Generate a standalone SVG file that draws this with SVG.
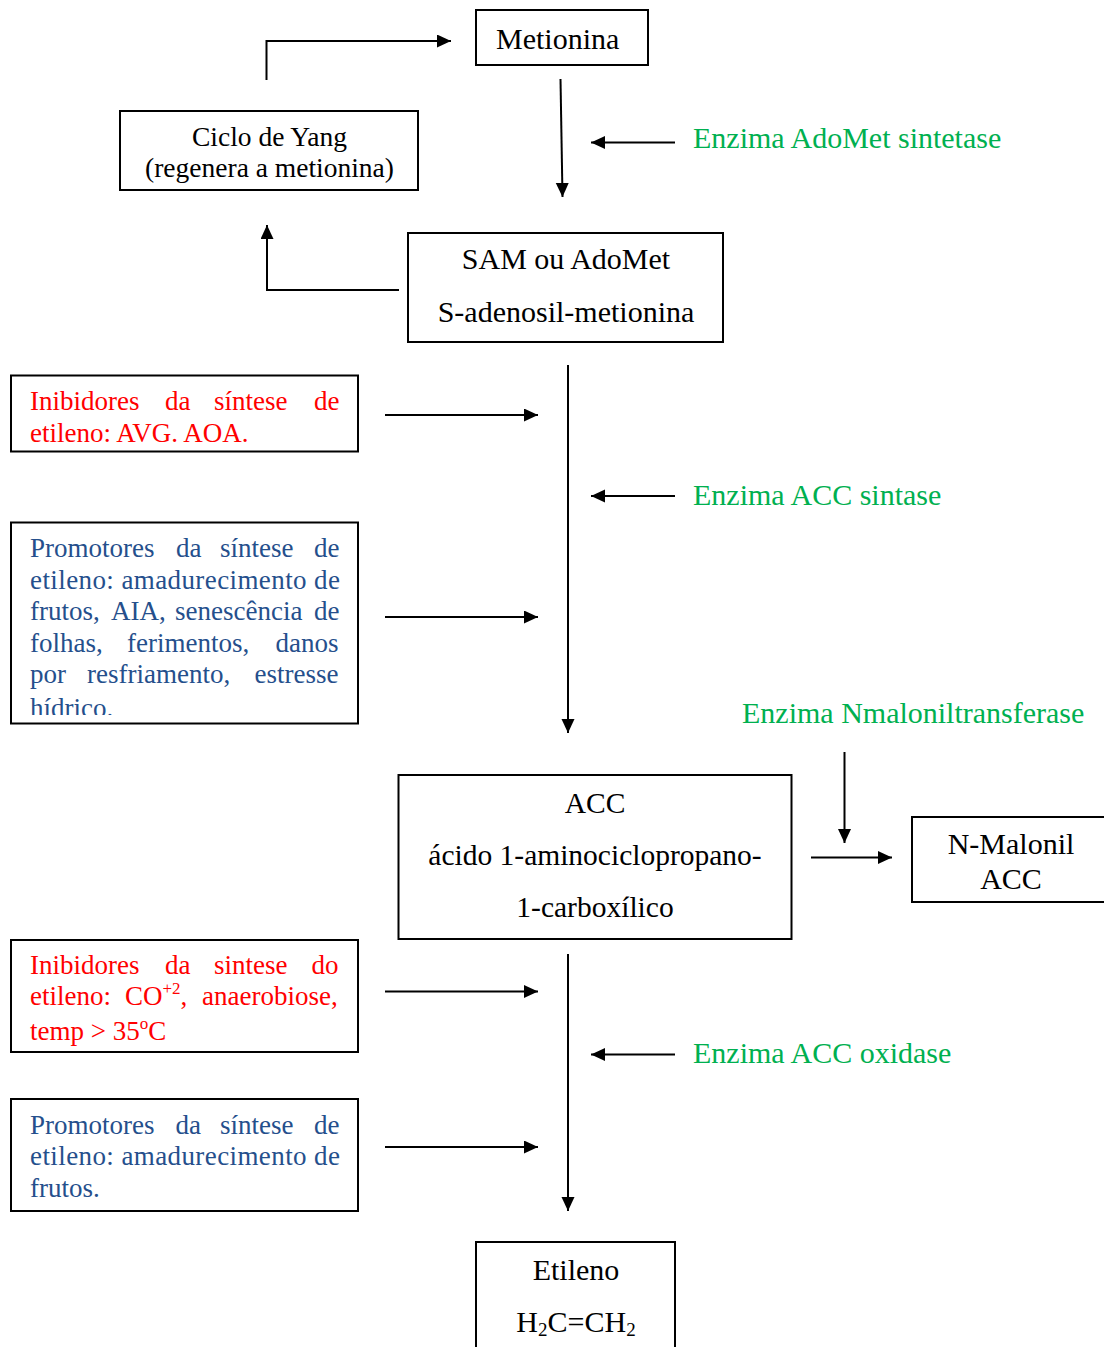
<svg xmlns="http://www.w3.org/2000/svg" width="1104" height="1347" viewBox="0 0 1104 1347">
<style>
.box{fill:#fff;stroke:#000;stroke-width:2}
.t{font-family:"Liberation Serif","Times New Roman",serif;fill:#000}
.b30{font-size:30px}
.b27{font-size:27px}
.g{font-family:"Liberation Serif","Times New Roman",serif;font-size:30px;fill:#00b050}
.r{font-family:"Liberation Serif","Times New Roman",serif;font-size:27px;fill:#ff0000}
.bl{font-family:"Liberation Serif","Times New Roman",serif;font-size:27px;fill:#254f8c}
.c{text-anchor:middle}
.ln{fill:none;stroke:#000;stroke-width:2}
</style>
<defs>
<marker id="ah" markerUnits="userSpaceOnUse" markerWidth="16" markerHeight="14" refX="14" refY="6.5" orient="auto">
<path d="M0,0 L14,6.5 L0,13 z" fill="#000"/>
</marker>
<clipPath id="clipP1"><rect x="12" y="523" width="345" height="192"/></clipPath>
</defs>
<rect width="1104" height="1347" fill="#fff"/>

<g id="connectors">
<polyline class="ln" points="266.5,80 266.5,41 451,41" marker-end="url(#ah)"/>
<line class="ln" x1="560.5" y1="79" x2="562.5" y2="197" marker-end="url(#ah)"/>
<line class="ln" x1="675" y1="142.5" x2="591" y2="142.5" marker-end="url(#ah)"/>
<polyline class="ln" points="399,290 267,290 267,225" marker-end="url(#ah)"/>
<line class="ln" x1="385" y1="415" x2="538" y2="415" marker-end="url(#ah)"/>
<line class="ln" x1="568" y1="365" x2="568" y2="733" marker-end="url(#ah)"/>
<line class="ln" x1="675" y1="496" x2="591" y2="496" marker-end="url(#ah)"/>
<line class="ln" x1="385" y1="617" x2="538" y2="617" marker-end="url(#ah)"/>
<line class="ln" x1="844.5" y1="752" x2="844.5" y2="843" marker-end="url(#ah)"/>
<line class="ln" x1="811" y1="857.5" x2="892" y2="857.5" marker-end="url(#ah)"/>
<line class="ln" x1="385" y1="991.5" x2="538" y2="991.5" marker-end="url(#ah)"/>
<line class="ln" x1="568" y1="954" x2="568" y2="1211" marker-end="url(#ah)"/>
<line class="ln" x1="675" y1="1054.5" x2="591" y2="1054.5" marker-end="url(#ah)"/>
<line class="ln" x1="385" y1="1147" x2="538" y2="1147" marker-end="url(#ah)"/>
</g>

<g id="metionina">
<rect class="box" x="476" y="10" width="172" height="55"/>
<text class="t b30" x="496" y="49">Metionina</text>
</g>

<g id="ciclo-yang">
<rect class="box" x="120" y="111" width="298" height="79"/>
<text class="t c" font-size="27.5" x="269.5" y="146">Ciclo de Yang</text>
<text class="t c" font-size="27.5" x="269.5" y="177">(regenera a metionina)</text>
</g>

<g id="enz-adomet">
<text class="g" x="693" y="148">Enzima AdoMet sintetase</text>
</g>

<g id="sam">
<rect class="box" x="408" y="233" width="315" height="109"/>
<text class="t b30 c" x="566" y="269">SAM ou AdoMet</text>
<text class="t b30 c" x="566" y="322">S-adenosil-metionina</text>
</g>

<g id="inibidores-1">
<rect class="box" x="11" y="375.5" width="347" height="76"/>
<text class="r" y="410"><tspan x="30">Inibidores</tspan><tspan x="165">da</tspan><tspan x="214">síntese</tspan><tspan x="314">de</tspan></text>
<text class="r" x="30" y="442">etileno: AVG. AOA.</text>
</g>

<g id="enz-acc-sintase">
<text class="g" x="693" y="505">Enzima ACC sintase</text>
</g>

<g id="promotores-1">
<rect class="box" x="11" y="522.5" width="347" height="201"/>
<g clip-path="url(#clipP1)">
<text class="bl" y="557"><tspan x="30">Promotores</tspan><tspan x="176">da</tspan><tspan x="220">síntese</tspan><tspan x="314">de</tspan></text>
<text class="bl" x="30" y="588.5" textLength="310" lengthAdjust="spacing">etileno: amadurecimento de</text>
<text class="bl" y="620"><tspan x="30">frutos,</tspan><tspan x="111">AIA,</tspan><tspan x="175">senescência</tspan><tspan x="314">de</tspan></text>
<text class="bl" y="651.5"><tspan x="30">folhas,</tspan><tspan x="127">ferimentos,</tspan><tspan x="275.5">danos</tspan></text>
<text class="bl" y="683"><tspan x="30">por</tspan><tspan x="87">resfriamento,</tspan><tspan x="254.5">estresse</tspan></text>
<text class="bl" x="30" y="716.5">hídrico.</text>
</g>
</g>

<g id="enz-nmalonil">
<text class="g" x="742" y="723">Enzima Nmaloniltransferase</text>
</g>

<g id="acc">
<rect class="box" x="398.5" y="775" width="393" height="164"/>
<text class="t c" font-size="29.5" x="595" y="812.5">ACC</text>
<text class="t c" font-size="29.5" x="595" y="864.5">ácido 1-aminociclopropano-</text>
<text class="t c" font-size="29.5" x="595" y="917">1-carboxílico</text>
</g>

<g id="n-malonil-acc">
<rect class="box" x="912" y="817" width="200" height="85"/>
<text class="t b30 c" x="1011" y="854">N-Malonil</text>
<text class="t b30 c" x="1011" y="889">ACC</text>
</g>

<g id="inibidores-2">
<rect class="box" x="11" y="940" width="347" height="112"/>
<text class="r" y="973.5"><tspan x="30">Inibidores</tspan><tspan x="165">da</tspan><tspan x="214">sintese</tspan><tspan x="311.5">do</tspan></text>
<text class="r" y="1005"><tspan x="30">etileno:</tspan><tspan x="125">CO</tspan><tspan font-size="17" dy="-11">+2</tspan><tspan dy="11">,</tspan><tspan x="202">anaerobiose,</tspan></text>
<text class="r" x="30" y="1040">temp &gt; 35<tspan font-size="17" dy="-11">o</tspan><tspan dy="11">C</tspan></text>
</g>

<g id="enz-acc-oxidase">
<text class="g" x="693" y="1063">Enzima ACC oxidase</text>
</g>

<g id="promotores-2">
<rect class="box" x="11" y="1099" width="347" height="112"/>
<text class="bl" y="1133.5"><tspan x="30">Promotores</tspan><tspan x="175.5">da</tspan><tspan x="220">síntese</tspan><tspan x="314">de</tspan></text>
<text class="bl" x="30" y="1165" textLength="310" lengthAdjust="spacing">etileno: amadurecimento de</text>
<text class="bl" x="30" y="1197">frutos.</text>
</g>

<g id="etileno">
<rect class="box" x="476" y="1242" width="199" height="120"/>
<text class="t b30 c" x="576" y="1279.5">Etileno</text>
<text class="t b30 c" x="576" y="1332">H<tspan font-size="19" dy="4">2</tspan><tspan dy="-4">C=CH</tspan><tspan font-size="19" dy="4">2</tspan></text>
</g>
</svg>
